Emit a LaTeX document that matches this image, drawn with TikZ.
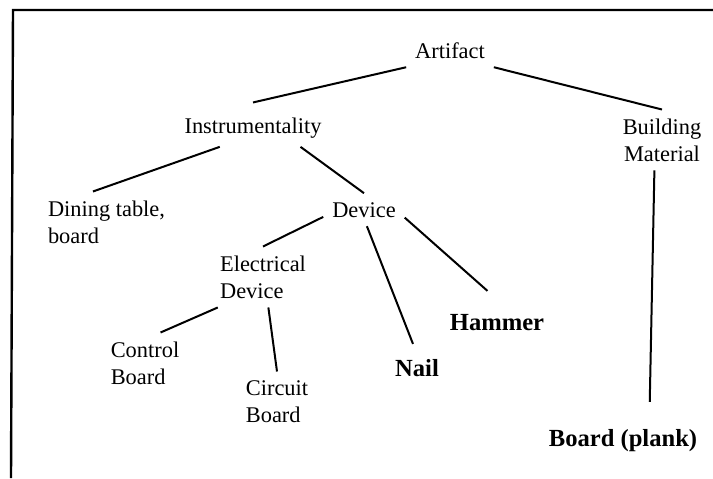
\documentclass[tikz,border=0pt]{standalone}
\usepackage{fontspec}
\setmainfont{Liberation Serif}
\begin{document}
\begin{tikzpicture}[
x=0.5pt, y=-0.5pt,
line width=1pt,
every node/.style={inner sep=4pt, font=\fontsize{11.2}{13.6}\selectfont},
multi/.style={align=left, anchor=north},
word/.style={anchor=base, font=\fontsize{12.3}{15}\selectfont\bfseries}
]
\useasboundingbox (0,0) rectangle (713,478);
\draw[line width=1.2pt] (713,10) -- (13,10) -- (11,478);

\node[anchor=base] (art) at (450,58) {Artifact};
\node[anchor=base] (instr) at (253,133) {Instrumentality};
\node[multi, align=center] (build) at (662,109.5) {Building\\Material};
\node[multi] (dining) at (106.5,191.5) {Dining table,\\board};
\node[anchor=base] (device) at (364,217) {Device};
\node[multi] (elec) at (263,246.5) {Electrical\\Device};
\node[multi] (ctrl) at (145,332.5) {Control\\Board};
\node[multi] (circ) at (277,371.5) {Circuit\\Board};
\node[word] (nail) at (417,376) {Nail};
\node[word] (hammer) at (497,330) {Hammer};
\node[word] (plank) at (623,446) {Board (plank)};

\draw (art.south west) -- ([yshift=3pt]instr.north);
\draw (art.south east) -- (build.north);
\draw (instr.-150) -- (dining.114);
\draw (instr.-22) -- (device.north);
\draw (device.190) -- (elec.north);
\draw (device.-80) -- ([shift={(-4,-6)}]nail.north);
\draw (device.-11) -- ([yshift=7pt]hammer.119);
\draw (elec.-146) -- (ctrl.63);
\draw (elec.-80) -- (circ.north);
\draw (build.-104) -- ([yshift=9pt]plank.37);
\end{tikzpicture}
\end{document}
